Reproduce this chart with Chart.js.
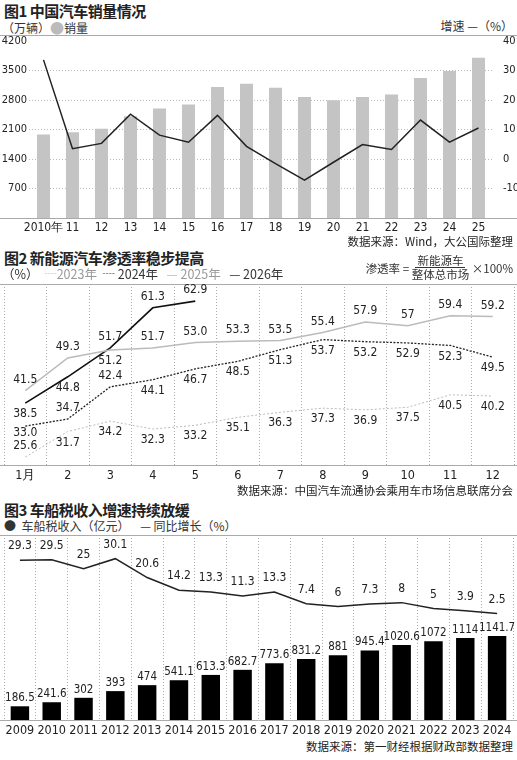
<!DOCTYPE html>
<html><head><meta charset="utf-8">
<script src="https://cdn.jsdelivr.net/npm/chart.js@4"></script>
<style>
body{margin:0;width:517px;height:760px;background:#fff;position:relative;overflow:hidden;font-family:"Noto Sans CJK SC",sans-serif;color:#222}
.t{position:absolute;left:4px;font-size:15px;font-weight:bold;letter-spacing:-0.5px}
.s{position:absolute;font-size:12px;color:#333;white-space:nowrap}
.c{position:absolute;left:0;width:517px}
.src{position:absolute;right:4px;font-size:11.5px;color:#222}
</style></head><body>
<div class="t" style="top:0px">图1 中国汽车销量情况</div>
<div class="s" style="top:17px;left:2px">（万辆）<span style="color:#bbb;font-size:14px">●</span>销量</div>
<div class="s" style="top:17px;right:4px">增速 —（%）</div>
<div style="position:absolute;left:0;width:517px;top:35px;border-top:1px solid #aaa"></div>
<div class="c" style="top:31px;height:205px"><canvas id="c1"></canvas></div>
<div class="src" style="top:233px">数据来源：Wind，大公国际整理</div>

<div class="t" style="top:247px">图2 新能源汽车渗透率稳步提高</div>
<div class="s" style="top:264px;left:2px;font-size:12.5px">（%）&nbsp;&nbsp;<span style="color:#bbb">┈</span><span style="color:#999">2023年</span>&nbsp;&nbsp;┈ 2024年&nbsp;&nbsp;&nbsp;<span style="color:#bbb">—</span> <span style="color:#999">2025年</span>&nbsp;&nbsp;&nbsp;— 2026年</div>
<div class="s" style="top:254px;right:4px;font-size:11.5px;display:flex;align-items:center">渗透率 =&nbsp;<span style="display:inline-flex;flex-direction:column;align-items:center;line-height:13px"><span style="border-bottom:1px solid #333;padding:0 2px">新能源车</span><span>整体总市场</span></span>&nbsp;×100%</div>
<div class="c" style="top:280px;height:203px"><canvas id="c2"></canvas></div>
<div class="src" style="top:482px">数据来源：中国汽车流通协会乘用车市场信息联席分会</div>

<div class="t" style="top:499px">图3 车船税收入增速持续放缓</div>
<div class="s" style="top:517px;left:4px">●&nbsp; 车船税收入（亿元）&nbsp;&nbsp;&nbsp;&nbsp;— 同比增长（%）</div>
<div class="c" style="top:531px;height:207px"><canvas id="c3"></canvas></div>
<div class="src" style="top:738px">数据来源：第一财经根据财政部数据整理</div>
<script>
const years1=['2010年','11','12','13','14','15','16','17','18','19','20','21','22','23','24','25'];
const sales1=[1980,2037,2116,2417,2599,2694,3106,3186,3091,2869,2797,2869,2932,3320,3487,3804];
const growth1=[33.6,3.5,5.3,15.2,8.1,5.7,14.8,4.3,-1.6,-7.2,-1.1,4.9,3.2,13.2,5.7,10.5];

const months2=['1月','2','3','4','5','6','7','8','9','10','11','12'];
const p2023=[25.6,31.7,34.2,32.3,33.2,35.1,36.3,37.3,36.9,37.5,40.5,40.2];
const p2024=[33.0,34.7,42.4,44.1,46.7,48.5,51.3,53.7,53.2,52.9,52.3,49.5];
const p2025=[41.5,49.3,51.2,51.7,53.0,53.3,53.5,55.4,57.9,57,59.4,59.2];
const p2026=[38.5,44.8,51.7,61.3,62.9];
const lbl2023=['25.6','31.7','34.2','32.3','33.2','35.1','36.3','37.3','36.9','37.5','40.5','40.2'];
const lbl2024=['33.0','34.7','42.4','44.1','46.7','48.5','51.3','53.7','53.2','52.9','52.3','49.5'];
const lbl2025=['41.5','49.3','51.2','51.7','53.0','53.3','53.5','55.4','57.9','57','59.4','59.2'];
const lbl2026=['38.5','44.8','51.7','61.3','62.9'];
const side2023=[-1,1,1,1,1,1,1,1,1,1,1,1];
const side2024=[0.6,-1,-1,1,1,1,1,1,1,1,1,1];
const side2025=[-1,-1,1,-1,-1,-1,-1,-1,-1,-1,-1,-1];
const side2026=[1,1,-1,-1,-1];

const years3=['2009','2010','2011','2012','2013','2014','2015','2016','2017','2018','2019','2020','2021','2022','2023','2024'];
const tax3=[186.5,241.6,302,393,474,541.1,613.3,682.7,773.6,831.2,881,945.4,1020.6,1072,1114,1141.7];
const growth3=[29.3,29.5,25,30.1,20.6,14.2,13.3,11.3,13.3,7.4,6,7.3,8,5,3.9,2.5];
const taxLbl=['186.5','241.6','302','393','474','541.1','613.3','682.7','773.6','831.2','881','945.4','1020.6','1072','1114','1141.7'];
const growthLbl=['29.3','29.5','25','30.1','20.6','14.2','13.3','11.3','13.3','7.4','6','7.3','8','5','3.9','2.5'];

const NUM='"Liberation Sans Narrow","DejaVu Sans Condensed",sans-serif';
Chart.defaults.font.family=NUM;
Chart.defaults.color='#222';
Chart.defaults.animation=false;
Chart.defaults.maintainAspectRatio=false;
Chart.defaults.plugins.legend.display=false;
Chart.defaults.plugins.tooltip.enabled=false;
const XT={maxRotation:0,minRotation:0,autoSkip:false};
const XFIT=s=>{s.height=18};

const labelPlugin={id:'lbl',afterDatasetsDraw(ch){
  const ctx=ch.ctx;ctx.save();
  ch.data.datasets.forEach((ds,i)=>{
    if(!ds.lbls)return;
    const meta=ch.getDatasetMeta(i);
    ctx.font=(ds.lblSize||12)+'px '+NUM;ctx.fillStyle='#222';
    ctx.textAlign='center';ctx.textBaseline='middle';
    meta.data.forEach((el,j)=>{
      const s=ds.sides?ds.sides[j]:-1;
      const off=ds.type==='bar'?-8:s*(ds.lblOff||11);
      ctx.fillText(ds.lbls[j],el.x,el.y+off);
    });
  });
  ctx.restore();
}};
const frame={id:'frame',beforeDatasetsDraw(ch,a,o){
  const {ctx,chartArea:c}=ch;ctx.save();ctx.strokeStyle='#aaa';ctx.lineWidth=1;
  ctx.beginPath();ctx.moveTo(0,c.bottom+0.5);ctx.lineTo(ch.width,c.bottom+0.5);
  if(!o.noTop){ctx.moveTo(0,c.top+0.5);ctx.lineTo(ch.width,c.top+0.5);}
  ctx.stroke();ctx.restore();}};

new Chart(document.getElementById('c1'),{
  data:{labels:years1,datasets:[
    {type:'line',data:growth1,yAxisID:'y1',borderColor:'#222',borderWidth:1.5,pointRadius:0,order:0},
    {type:'bar',data:sales1,yAxisID:'y',backgroundColor:'#c4c4c4',barPercentage:0.45,categoryPercentage:1,order:1}]},
  options:{layout:{padding:{top:10,left:0,right:0}},
    plugins:{frame:{noTop:true}},
    scales:{
      x:{afterFit:XFIT,grid:{display:false,drawTicks:false},border:{display:false},ticks:{...XT,font:{size:12},padding:3}},
      y:{min:0,max:4200,afterFit:s=>{s.width=29},ticks:{stepSize:700,font:{size:11},padding:2,callback:v=>v===0?'':v},
         grid:{color:'#bbb',tickLength:0,lineWidth:c=>(c.tick&&(c.tick.value===0||c.tick.value===4200))?0:1},border:{display:false,dash:[1,2]}},
      y1:{position:'right',min:-20,max:40,afterFit:s=>{s.width=24},ticks:{stepSize:10,font:{size:11},padding:2,callback:v=>v===-20?'':v},grid:{display:false},border:{display:false}}
    }},
  plugins:[frame]
});

new Chart(document.getElementById('c2'),{
  type:'line',
  data:{labels:months2,datasets:[
    {data:p2023,borderColor:'#bbb',borderWidth:1,borderDash:[2,2],pointRadius:0,lbls:lbl2023,sides:side2023},
    {data:p2024,borderColor:'#222',borderWidth:1.3,borderDash:[2,1.5],pointRadius:0,lbls:lbl2024,sides:side2024},
    {data:p2025,borderColor:'#bbb',borderWidth:1.5,pointRadius:0,lbls:lbl2025,sides:side2025},
    {data:p2026,borderColor:'#111',borderWidth:1.6,pointRadius:0,lbls:lbl2026,sides:side2026}]},
  options:{layout:{padding:{top:4,left:4,right:3}},
    scales:{
      x:{afterFit:XFIT,offset:true,grid:{offset:true,color:'#aaa',tickLength:0,drawTicks:false},border:{display:false,dash:[1,2]},ticks:{...XT,font:{size:12.5},padding:3}},
      y:{display:false,min:23.7,max:67}
    }},
  plugins:[labelPlugin,frame]
});

new Chart(document.getElementById('c3'),{
  data:{labels:years3,datasets:[
    {type:'line',data:growth3,yAxisID:'y1',borderColor:'#222',borderWidth:1.5,pointRadius:0,lbls:growthLbl,lblOff:14,order:0},
    {type:'bar',data:tax3,yAxisID:'y',backgroundColor:'#000',barPercentage:0.58,categoryPercentage:1,lbls:taxLbl,lblSize:11.5,order:1}]},
  options:{layout:{padding:{top:4,left:4,right:4}},
    scales:{
      x:{afterFit:XFIT,grid:{offset:true,color:'#aaa',tickLength:0,drawTicks:false},border:{display:false,dash:[1,2]},ticks:{...XT,font:{size:12.5},padding:3}},
      y:{display:false,min:0,max:2517},
      y1:{display:false,min:-51,max:42}
    }},
  plugins:[labelPlugin,frame]
});
</script>
</body></html>
